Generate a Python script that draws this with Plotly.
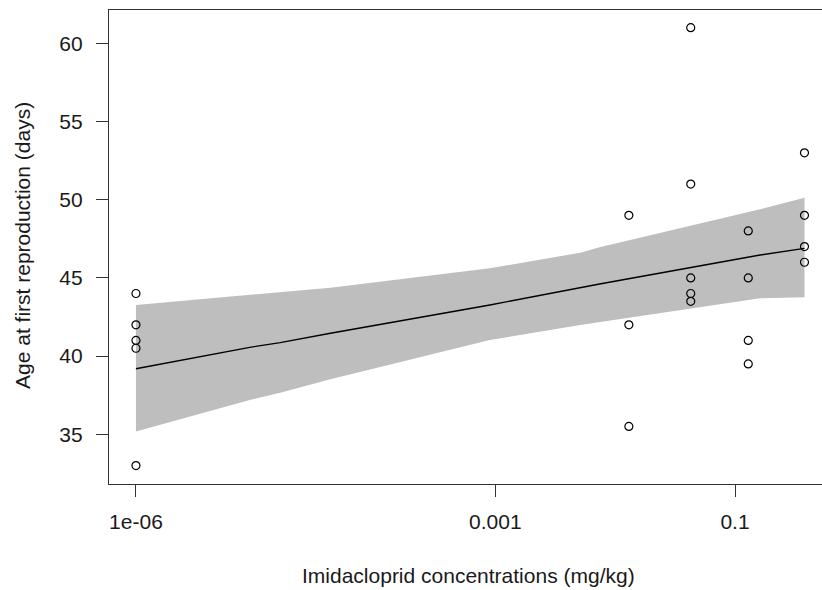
import plotly.graph_objects as go

# Observed age at first reproduction per imidacloprid concentration
conc = [1e-6, 1e-6, 1e-6, 1e-6, 1e-6,
        0.013, 0.013, 0.013,
        0.0427, 0.0427, 0.0427, 0.0427, 0.0427,
        0.129, 0.129, 0.129, 0.129,
        0.38, 0.38, 0.38, 0.38]
age = [44, 42, 41, 40.5, 33,
       49, 42, 35.5,
       61, 51, 45, 44, 43.5,
       48, 45, 41, 39.5,
       53, 49, 47, 46]

# Fitted model and its confidence band on a concentration grid
grid_conc = [1e-6, 8.9e-6, 1.6e-5, 4.2e-5, 9.0e-4, 3.5e-3, 5.1e-3, 7.4e-3, 0.162, 0.38]
fit_age = [39.19, 40.56, 40.86, 41.46, 43.27, 44.12, 44.34, 44.61, 46.46, 46.89]
upper_age = [43.27, 43.91, 44.05, 44.37, 45.61, 46.40, 46.61, 46.96, 49.39, 50.13]
lower_age = [35.17, 37.19, 37.65, 38.52, 41.03, 41.78, 41.99, 42.20, 43.70, 43.76]

# Axis ticks
x_tickvals = [1e-6, 1e-3, 1e-1]
x_ticktext = ["1e-06", "0.001", "0.1"]
y_tickvals = [35, 40, 45, 50, 55, 60]

FONT = "Arial, Liberation Sans, sans-serif"
INK = "#333333"

fig = go.Figure()

fig.add_trace(go.Scatter(
    x=grid_conc + grid_conc[::-1],
    y=upper_age + lower_age[::-1],
    fill="toself", fillcolor="#BEBEBE",
    line=dict(width=0), mode="lines", hoverinfo="skip", showlegend=False,
))
fig.add_trace(go.Scatter(
    x=grid_conc, y=fit_age, mode="lines",
    line=dict(color="black", width=1.4), showlegend=False,
))
fig.add_trace(go.Scatter(
    x=conc, y=age, mode="markers",
    marker=dict(symbol="circle-open", size=8, color="black",
                line=dict(width=1.2, color="black")),
    showlegend=False,
))

fig.update_layout(
    width=822, height=590,
    margin=dict(l=109, r=0, t=10, b=106),
    paper_bgcolor="white", plot_bgcolor="white",
    font=dict(family=FONT, size=21, color="#1a1a1a"),
    xaxis=dict(
        type="log", range=[-6.225, -0.274],
        tickvals=x_tickvals, ticktext=x_ticktext,
        showgrid=False, zeroline=False,
        showline=True, mirror=True, linecolor=INK, linewidth=1.3,
        ticks="outside", ticklen=12, tickwidth=1.3, tickcolor=INK,
        ticklabelstandoff=7,
    ),
    yaxis=dict(
        range=[31.82, 62.13],
        tickvals=y_tickvals,
        showgrid=False, zeroline=False,
        showline=True, mirror=False, linecolor=INK, linewidth=1.3,
        ticks="outside", ticklen=12, tickwidth=1.3, tickcolor=INK,
        ticklabelstandoff=9,
    ),
    annotations=[
        dict(text="Imidacloprid concentrations (mg/kg)", xref="paper", yref="paper",
             x=(468.5 - 109) / 713, y=-(575 - 484) / 474,
             xanchor="center", yanchor="middle", showarrow=False),
        dict(text="Age at first reproduction (days)", xref="paper", yref="paper",
             x=-(109 - 22) / 713, y=(484 - 246) / 474, textangle=-90,
             xanchor="center", yanchor="middle", showarrow=False),
    ],
)

fig.write_html("out.html")
